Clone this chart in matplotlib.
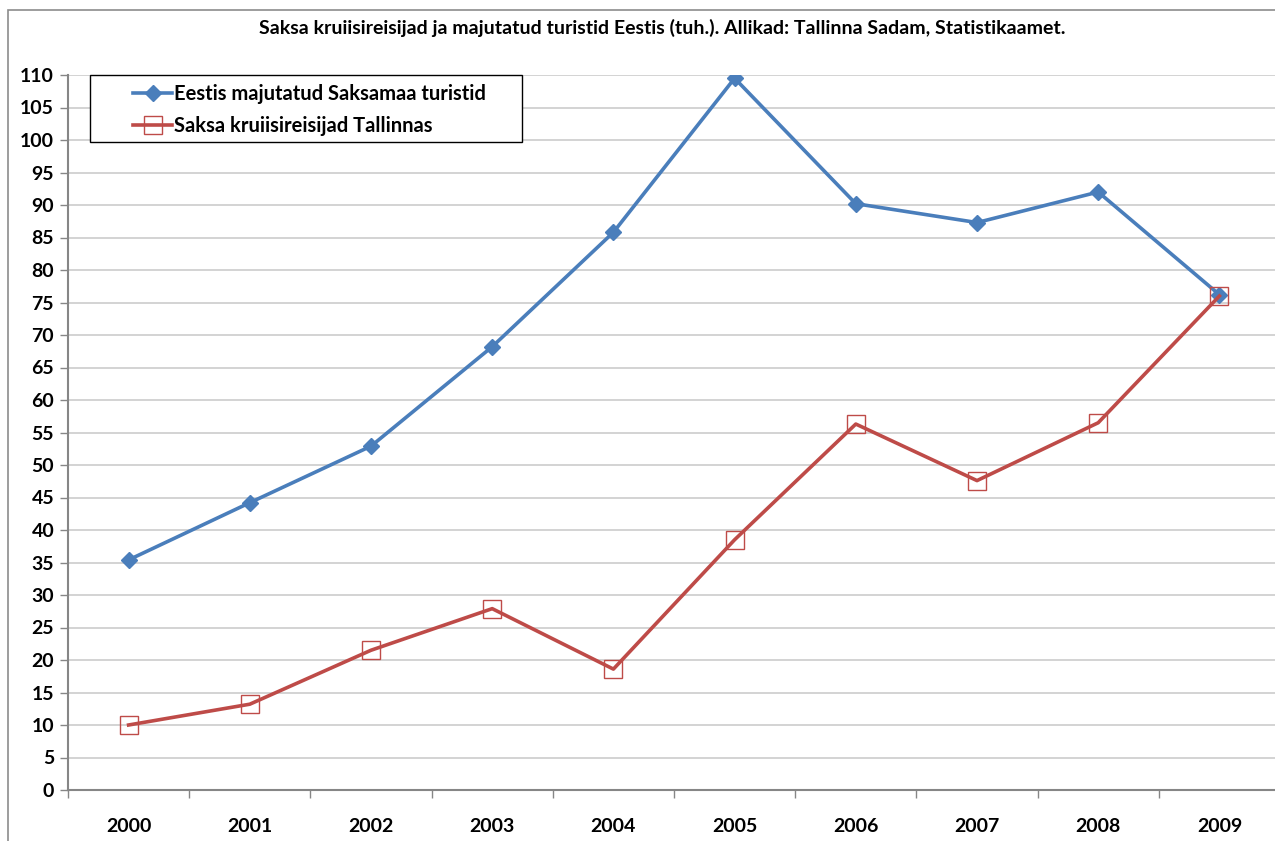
import matplotlib
import numpy as np

matplotlib.use("Agg")
import matplotlib.pyplot as plt  # noqa: E402
from matplotlib.patches import Rectangle  # noqa: E402

# Data (thousands)
years = ["2000", "2001", "2002", "2003", "2004", "2005", "2006", "2007", "2008", "2009"]
majutatud = [35.4, 44.2, 52.9, 68.2, 85.8, 109.5, 90.2, 87.3, 92.0, 76.2]
kruiis = [10.0, 13.2, 21.5, 27.9, 18.6, 38.5, 56.3, 47.6, 56.5, 76.0]
y_ticks = list(range(0, 111, 5))

title = "Saksa kruiisireisijad ja majutatud turistid Eestis (tuh.). Allikad: Tallinna Sadam, Statistikaamet."
label_majutatud = "Eestis majutatud Saksamaa turistid"
label_kruiis = "Saksa kruiisireisijad Tallinnas"

plt.rcParams["font.family"] = ["Lato", "DejaVu Sans"]
plt.rcParams["font.weight"] = "bold"

W, H = 1275, 841
fig = plt.figure(figsize=(W / 100, H / 100), dpi=100)

# outer chart frame (only top and left edges visible in the crop)
fig.patches.append(Rectangle((8 / W, -0.1), 1.2, (H - 10) / H + 0.1,
                             transform=fig.transFigure, fill=False,
                             edgecolor="#8c8c8c", linewidth=1.2))

ax = fig.add_axes([68 / W, 51 / H, 1212 / W, 715 / H])
x = np.arange(len(years))

ax.plot(x, majutatud, color="#4A7EBB", linewidth=2.6, marker="D", markersize=8,
        markerfacecolor="#4A7EBB", markeredgecolor="#4A7EBB", label=label_majutatud,
        zorder=3)
ax.plot(x, kruiis, color="#BE4B48", linewidth=2.6, marker="s", markersize=12.5,
        markerfacecolor="none", markeredgecolor="#BE4B48", markeredgewidth=1.0,
        label=label_kruiis, zorder=4)

ax.set_xlim(-0.5, 9.5)
ax.set_ylim(0, 110)
ax.set_yticks(y_ticks)
ax.set_yticklabels([str(v) for v in y_ticks], fontsize=14, fontweight="bold")

# category labels centered, ticks at category boundaries
ax.set_xticks(x)
ax.set_xticklabels(years, fontsize=14, fontweight="bold")
ax.set_xticks(np.arange(-0.5, 9.6, 1), minor=True)
ax.tick_params(axis="x", which="major", length=0, pad=20)
ax.tick_params(axis="x", which="minor", length=6, color="#868686", width=1)
ax.tick_params(axis="y", length=6, color="#868686", width=1, pad=4)

ax.grid(axis="y", color="#c8c8c8", linewidth=1.1)
ax.set_axisbelow(True)
for side in ("top", "right"):
    ax.spines[side].set_visible(False)
for side in ("left", "bottom"):
    ax.spines[side].set_color("#868686")
    ax.spines[side].set_linewidth(1.5)

fig.text(662 / W, 1 - 28 / H, title, ha="center", va="center",
         fontsize=14, fontweight="bold")

# legend without own frame, boxed separately to get Excel-like padding
leg = ax.legend(loc="upper left", bbox_to_anchor=(133 / W, 1 - 84 / H),
                bbox_transform=fig.transFigure, fontsize=14.5, frameon=False,
                borderpad=0, handlelength=1.95, handletextpad=0.1,
                labelspacing=0.6, borderaxespad=0)
for t in leg.get_texts():
    t.set_fontweight("bold")
ax.add_patch(Rectangle((90 / W, 1 - 142 / H), 432 / W, 67 / H,
                       transform=fig.transFigure, fill=True, facecolor="white",
                       edgecolor="black", linewidth=1.0, zorder=5, clip_on=False))
leg.set_zorder(6)

fig.savefig("out.png", dpi=100)
